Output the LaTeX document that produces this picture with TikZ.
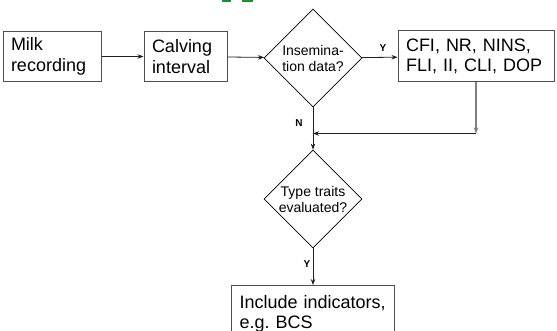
\documentclass[tikz,border=0pt]{standalone}
\usepackage{fontspec}
\setmainfont{Liberation Sans}
\frenchspacing
\usetikzlibrary{shapes.geometric,arrows.meta}
\definecolor{boxgray}{HTML}{505050}
\definecolor{linegray}{HTML}{202020}
\definecolor{titlegreen}{HTML}{1F8A3C}
\begin{document}
\begin{tikzpicture}[x=1pt,y=-1pt,
  box/.style={draw=boxgray, line width=1pt, rectangle, inner xsep=8pt, inner ysep=0pt,
    align=left, font=\fontsize{18}{20.5}\selectfont},
  dec/.style={draw=black, line width=0.8pt, diamond, aspect=1, inner sep=0pt,
    minimum width=98pt, minimum height=98pt, align=center,
    font=\fontsize{14}{16}\selectfont},
  conn/.style={draw=linegray, line width=0.8pt, -{Stealth[length=6pt,width=4.5pt]}},
  lab/.style={font=\fontsize{10}{12}\selectfont\bfseries, inner sep=0pt}
]
\useasboundingbox (0,0) rectangle (557,331);
\clip (0,0) rectangle (557,331);

% remnants of the green title at the top edge
\fill[titlegreen] (222,0) rectangle (231,2);
\fill[titlegreen] (242,0) rectangle (253,2);

\node[box, minimum width=98pt, minimum height=50pt, text width=82pt] (milk) at (52,56.5) {Milk\\recording};
\node[box, minimum width=83pt, minimum height=50pt, text width=67pt] (calv) at (185.5,56.5) {Calving\\interval};
\node[dec] (insem) at (313,58) {Insemina-\\tion data?};
\node[box, minimum width=156pt, minimum height=51pt, text width=140pt] (cfi) at (476,56.5) {CFI, NR, NINS,\\FLI, II, CLI, DOP};
\node[dec] (type) at (313,199) {Type traits\\evaluated?};
\node[box, anchor=north west, inner ysep=9.5pt, text width=147pt] (incl) at (231,285) {Include indicators,\\e.g. BCS};

\coordinate (j1) at (476,133.5);
\coordinate (j2) at (313,133.5);

\node[lab] (ylab1) at (383,48) {Y};
\node[lab] (nlab) at (299,123) {N};
\node[lab] (ylab2) at (307,264) {Y};

\draw[conn] (milk) -- (calv);
\draw[conn] (calv) -- (insem);
\draw[conn] (insem) -- (cfi);
\draw[conn] (insem) -- (type);
\draw[conn, draw=gray, line width=1.2pt] (cfi.south) -- (j1);
\draw[conn] (j1) -- (j2);
\draw[conn] (type) -- (incl.north -| type);
\end{tikzpicture}
\end{document}
